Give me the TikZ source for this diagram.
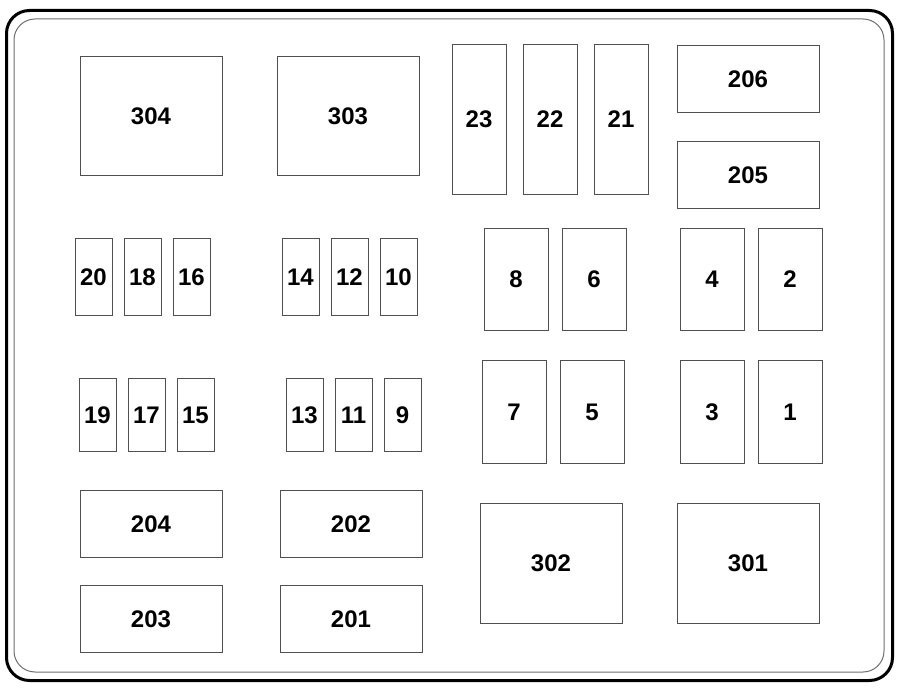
\documentclass[tikz,border=0pt]{standalone}
\usepackage{fontspec}
\setmainfont{Liberation Sans}
\usepackage{tikz}
\usetikzlibrary{positioning}
\usetikzlibrary{calc}
\definecolor{boxgrey}{RGB}{80,80,80}
\definecolor{rimgrey}{RGB}{110,110,110}
\newcommand\fuse[5][]{%
  \node[fusebox,#1,minimum width=#4pt,minimum height=#5pt] (f#2) at (#3) {#2};
}

\begin{document}
\begin{tikzpicture}[
x=1pt, y=-1pt,
fusebox/.style={
  rectangle,
  draw=boxgrey,
  line width=0.9pt,
  inner sep=0pt,
  text height=17.2pt,
  text depth=0pt,
  font=\fontsize{24}{28}\selectfont\bfseries,
  text centered},
rim/.style={
  draw=black,
  line width=3pt,
  rounded corners=23pt},
innerrim/.style={
  draw=rimgrey,
  line width=1pt,
  rounded corners=21pt}
]
\useasboundingbox (0,0) rectangle (900,692);
\draw[rim] (6.5,10.5) rectangle (892.5,680.5);
\draw[innerrim] (14,19) rectangle (884,672);
% top row
\fuse{304}{151,115.5}{142}{119}
\fuse{303}{348,115.5}{142}{119}
\fuse{23}{479,119}{54}{150}
\fuse{22}{550,119}{54}{150}
\fuse{21}{621,119}{54}{150}
\fuse{206}{748,79}{142}{67}
\fuse{205}{748,175}{142}{67}
% second row
\fuse{20}{93.5,276.5}{37}{77}
\fuse{18}{142.5,276.5}{37}{77}
\fuse{16}{191.5,276.5}{37}{77}
\fuse{14}{300.5,276.5}{37}{77}
\fuse{12}{349.5,276.5}{37}{77}
\fuse{10}{398.5,276.5}{37}{77}
\fuse{8}{516,279}{64}{102}
\fuse{6}{594,279}{64}{102}
\fuse{4}{712,279}{64}{102}
\fuse{2}{790,279}{64}{102}
% third row
\fuse{19}{97.5,414.5}{37}{73}
\fuse{17}{146.5,414.5}{37}{73}
\fuse{15}{195.5,414.5}{37}{73}
\fuse{13}{304.5,414.5}{37}{73}
\fuse{11}{353.5,414.5}{37}{73}
\fuse{9}{402.5,414.5}{37}{73}
\fuse{7}{514,411.5}{64}{103}
\fuse{5}{592,411.5}{64}{103}
\fuse{3}{712,411.5}{64}{103}
\fuse{1}{790,411.5}{64}{103}
% bottom rows
\fuse{204}{151,523.5}{142}{67}
\fuse{202}{351,523.5}{142}{67}
\fuse{203}{151,619}{142}{67}
\fuse{201}{351,619}{142}{67}
\fuse{302}{551,563}{142}{120}
\fuse{301}{748,563}{142}{120}
\end{tikzpicture}
\end{document}
